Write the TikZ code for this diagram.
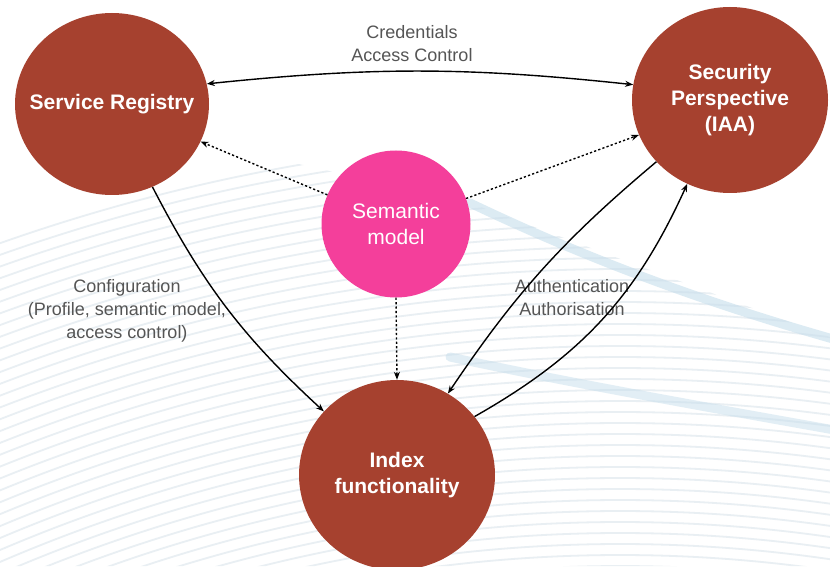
\documentclass[tikz,border=0pt]{standalone}
\usepackage{fontspec}
\setmainfont{Liberation Sans}
\usetikzlibrary{shapes.geometric,arrows.meta}
\definecolor{brick}{HTML}{A6412F}
\definecolor{pinkish}{HTML}{F43F9B}
\definecolor{labelgray}{HTML}{555555}
\definecolor{bgline}{HTML}{E9EFF3}
\definecolor{bgband}{HTML}{C6DEEC}
\begin{document}
\begin{tikzpicture}[x=1pt,y=1pt,
  bignode/.style={ellipse, fill=brick, text=white, font=\fontsize{21}{26}\selectfont\bfseries, align=center, inner xsep=-25pt, inner ysep=0pt},
  pinknode/.style={ellipse, fill=pinkish, text=white, font=\fontsize{21}{26}\selectfont, align=center, inner sep=0pt, minimum width=149pt, minimum height=147pt},
  lbl/.style={text=labelgray, font=\fontsize{18}{23}\selectfont, align=center},
  conn/.style={line width=1.4pt, -{Stealth[length=8pt,width=6pt]}},
  dotconn/.style={line width=1.4pt, dash pattern=on 2.2pt off 2.2pt, -{Stealth[length=8pt,width=6pt]}},
  bgarc/.style={bgline, line width=1.8pt},
  band/.style={bgband, line width=9pt, line cap=round, opacity=0.6}
]
\useasboundingbox (0,0) rectangle (830,566);
\fill[white] (0,0) rectangle (830,566);
\begin{scope}
  \clip (0,0) -- (830,0) -- (830,229) -- (470,363) -- (0,470) -- cycle;
  \foreach \r in {1434,1445,...,1870} {
    \draw[bgarc] (620,-1434) ++(78:\r) arc (78:116:\r);
  }
\end{scope}
\begin{scope}
  \clip (0,0) rectangle (830,566);
  \draw[band] (470,363) .. controls (560,320) and (680,270) .. (840,225);
  \draw[band, opacity=0.5] (450,209) .. controls (560,185) and (700,160) .. (840,135);
\end{scope}

% nodes
\node[bignode, minimum width=194pt, minimum height=182pt] (sr) at (112,462) {Service Registry};
\node[bignode, minimum width=196pt, minimum height=186pt] (sp) at (730,466) {Security\\Perspective\\(IAA)};
\node[pinknode] (sm) at (396,342) {Semantic\\model};
\node[bignode, minimum width=196pt, minimum height=190pt] (idx) at (397,91) {Index\\functionality};

% labels
\node[lbl] (lcred) at (412,522) {Credentials\\Access Control};
\node[lbl] (lconf) at (127,255) {Configuration\\(Profile, semantic model,\\access control)};
\node[lbl] (lauth) at (572,268) {Authentication\\Authorisation};

% connectors
\draw[conn, {Stealth[length=8pt,width=6pt]}-{Stealth[length=8pt,width=6pt]}] (sr.12) to[bend left=6] (sp.171);
\draw[dotconn] (sm.157) -- (sr.-23);
\draw[dotconn] (sm.20) -- (sp.-159);
\draw[dotconn] (sm.south) -- (idx.north);
\draw[conn] (sr.-64) to[bend right=10] (idx.139);
\draw[conn] (sp.220) to[bend right=8] (idx.58);
\draw[conn] (idx.37) to[bend right=18] (sp.243);
\end{tikzpicture}
\end{document}
